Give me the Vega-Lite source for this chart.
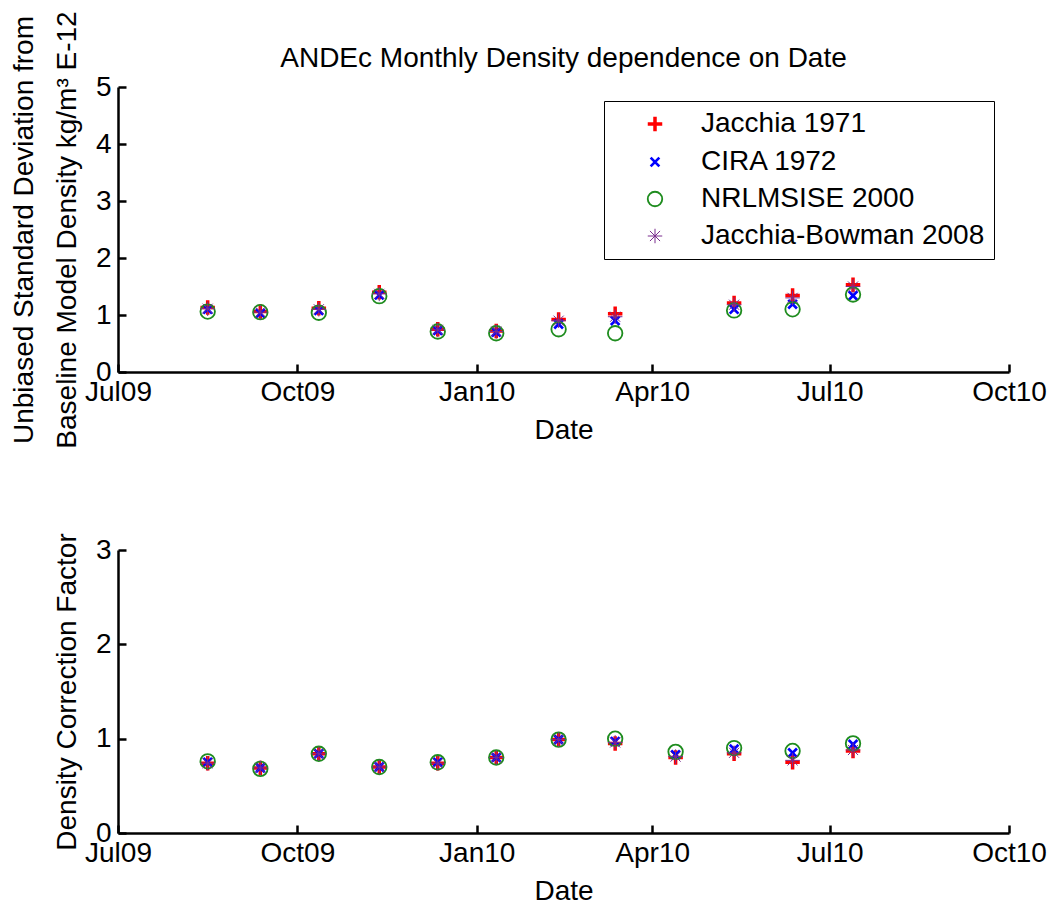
{
  "$schema": "https://vega.github.io/schema/vega-lite/v6.json",
  "autosize": "pad",
  "padding": {"left": 10, "top": 10, "right": 5, "bottom": 3},
  "background": "white",
  "bounds": "flush",
  "spacing": 178,
  "datasets": {
    "top": [
      {"d": "2009-08-16", "s": "Jacchia 1971", "v": 1.13},
      {"d": "2009-09-12", "s": "Jacchia 1971", "v": 1.06},
      {"d": "2009-10-12", "s": "Jacchia 1971", "v": 1.12},
      {"d": "2009-11-12", "s": "Jacchia 1971", "v": 1.40},
      {"d": "2009-12-12", "s": "Jacchia 1971", "v": 0.75},
      {"d": "2010-01-11", "s": "Jacchia 1971", "v": 0.72},
      {"d": "2010-02-12", "s": "Jacchia 1971", "v": 0.92},
      {"d": "2010-03-13", "s": "Jacchia 1971", "v": 1.02},
      {"d": "2010-05-13", "s": "Jacchia 1971", "v": 1.21},
      {"d": "2010-06-12", "s": "Jacchia 1971", "v": 1.34},
      {"d": "2010-07-13", "s": "Jacchia 1971", "v": 1.53},
      {"d": "2009-08-16", "s": "CIRA 1972", "v": 1.10},
      {"d": "2009-09-12", "s": "CIRA 1972", "v": 1.03},
      {"d": "2009-10-12", "s": "CIRA 1972", "v": 1.08},
      {"d": "2009-11-12", "s": "CIRA 1972", "v": 1.35},
      {"d": "2009-12-12", "s": "CIRA 1972", "v": 0.73},
      {"d": "2010-01-11", "s": "CIRA 1972", "v": 0.70},
      {"d": "2010-02-12", "s": "CIRA 1972", "v": 0.84},
      {"d": "2010-03-13", "s": "CIRA 1972", "v": 0.90},
      {"d": "2010-05-13", "s": "CIRA 1972", "v": 1.10},
      {"d": "2010-06-12", "s": "CIRA 1972", "v": 1.19},
      {"d": "2010-07-13", "s": "CIRA 1972", "v": 1.34},
      {"d": "2009-08-16", "s": "NRLMSISE 2000", "v": 1.06},
      {"d": "2009-09-12", "s": "NRLMSISE 2000", "v": 1.05},
      {"d": "2009-10-12", "s": "NRLMSISE 2000", "v": 1.04},
      {"d": "2009-11-12", "s": "NRLMSISE 2000", "v": 1.33},
      {"d": "2009-12-12", "s": "NRLMSISE 2000", "v": 0.71},
      {"d": "2010-01-11", "s": "NRLMSISE 2000", "v": 0.68},
      {"d": "2010-02-12", "s": "NRLMSISE 2000", "v": 0.75},
      {"d": "2010-03-13", "s": "NRLMSISE 2000", "v": 0.68},
      {"d": "2010-05-13", "s": "NRLMSISE 2000", "v": 1.08},
      {"d": "2010-06-12", "s": "NRLMSISE 2000", "v": 1.10},
      {"d": "2010-07-13", "s": "NRLMSISE 2000", "v": 1.36},
      {"d": "2009-08-16", "s": "Jacchia-Bowman 2008", "v": 1.11},
      {"d": "2009-09-12", "s": "Jacchia-Bowman 2008", "v": 1.05},
      {"d": "2009-10-12", "s": "Jacchia-Bowman 2008", "v": 1.10},
      {"d": "2009-11-12", "s": "Jacchia-Bowman 2008", "v": 1.37},
      {"d": "2009-12-12", "s": "Jacchia-Bowman 2008", "v": 0.74},
      {"d": "2010-01-11", "s": "Jacchia-Bowman 2008", "v": 0.71},
      {"d": "2010-02-12", "s": "Jacchia-Bowman 2008", "v": 0.90},
      {"d": "2010-03-13", "s": "Jacchia-Bowman 2008", "v": 0.97},
      {"d": "2010-05-13", "s": "Jacchia-Bowman 2008", "v": 1.18},
      {"d": "2010-06-12", "s": "Jacchia-Bowman 2008", "v": 1.30},
      {"d": "2010-07-13", "s": "Jacchia-Bowman 2008", "v": 1.50}
    ],
    "bot": [
      {"d": "2009-08-16", "s": "Jacchia 1971", "v": 0.74},
      {"d": "2009-09-12", "s": "Jacchia 1971", "v": 0.69},
      {"d": "2009-10-12", "s": "Jacchia 1971", "v": 0.84},
      {"d": "2009-11-12", "s": "Jacchia 1971", "v": 0.70},
      {"d": "2009-12-12", "s": "Jacchia 1971", "v": 0.74},
      {"d": "2010-01-11", "s": "Jacchia 1971", "v": 0.80},
      {"d": "2010-02-12", "s": "Jacchia 1971", "v": 0.99},
      {"d": "2010-03-13", "s": "Jacchia 1971", "v": 0.95},
      {"d": "2010-04-13", "s": "Jacchia 1971", "v": 0.80},
      {"d": "2010-05-13", "s": "Jacchia 1971", "v": 0.84},
      {"d": "2010-06-12", "s": "Jacchia 1971", "v": 0.75},
      {"d": "2010-07-13", "s": "Jacchia 1971", "v": 0.87},
      {"d": "2009-08-16", "s": "CIRA 1972", "v": 0.75},
      {"d": "2009-09-12", "s": "CIRA 1972", "v": 0.69},
      {"d": "2009-10-12", "s": "CIRA 1972", "v": 0.84},
      {"d": "2009-11-12", "s": "CIRA 1972", "v": 0.70},
      {"d": "2009-12-12", "s": "CIRA 1972", "v": 0.75},
      {"d": "2010-01-11", "s": "CIRA 1972", "v": 0.80},
      {"d": "2010-02-12", "s": "CIRA 1972", "v": 0.99},
      {"d": "2010-03-13", "s": "CIRA 1972", "v": 0.97},
      {"d": "2010-04-13", "s": "CIRA 1972", "v": 0.83},
      {"d": "2010-05-13", "s": "CIRA 1972", "v": 0.89},
      {"d": "2010-06-12", "s": "CIRA 1972", "v": 0.85},
      {"d": "2010-07-13", "s": "CIRA 1972", "v": 0.94},
      {"d": "2009-08-16", "s": "NRLMSISE 2000", "v": 0.76},
      {"d": "2009-09-12", "s": "NRLMSISE 2000", "v": 0.68},
      {"d": "2009-10-12", "s": "NRLMSISE 2000", "v": 0.84},
      {"d": "2009-11-12", "s": "NRLMSISE 2000", "v": 0.70},
      {"d": "2009-12-12", "s": "NRLMSISE 2000", "v": 0.75},
      {"d": "2010-01-11", "s": "NRLMSISE 2000", "v": 0.80},
      {"d": "2010-02-12", "s": "NRLMSISE 2000", "v": 0.99},
      {"d": "2010-03-13", "s": "NRLMSISE 2000", "v": 1.00},
      {"d": "2010-04-13", "s": "NRLMSISE 2000", "v": 0.86},
      {"d": "2010-05-13", "s": "NRLMSISE 2000", "v": 0.90},
      {"d": "2010-06-12", "s": "NRLMSISE 2000", "v": 0.87},
      {"d": "2010-07-13", "s": "NRLMSISE 2000", "v": 0.95},
      {"d": "2009-08-16", "s": "Jacchia-Bowman 2008", "v": 0.74},
      {"d": "2009-09-12", "s": "Jacchia-Bowman 2008", "v": 0.69},
      {"d": "2009-10-12", "s": "Jacchia-Bowman 2008", "v": 0.84},
      {"d": "2009-11-12", "s": "Jacchia-Bowman 2008", "v": 0.70},
      {"d": "2009-12-12", "s": "Jacchia-Bowman 2008", "v": 0.74},
      {"d": "2010-01-11", "s": "Jacchia-Bowman 2008", "v": 0.80},
      {"d": "2010-02-12", "s": "Jacchia-Bowman 2008", "v": 0.99},
      {"d": "2010-03-13", "s": "Jacchia-Bowman 2008", "v": 0.96},
      {"d": "2010-04-13", "s": "Jacchia-Bowman 2008", "v": 0.81},
      {"d": "2010-05-13", "s": "Jacchia-Bowman 2008", "v": 0.85},
      {"d": "2010-06-12", "s": "Jacchia-Bowman 2008", "v": 0.77},
      {"d": "2010-07-13", "s": "Jacchia-Bowman 2008", "v": 0.88}
    ]
  },
  "config": {
    "font": "Liberation Sans",
    "view": {"stroke": null},
    "axis": {
      "grid": false,
      "domainColor": "black",
      "domainWidth": 2.5,
      "tickColor": "black",
      "tickWidth": 2.5,
      "tickSize": -8,
      "labelFont": "Liberation Sans",
      "labelFontSize": 28,
      "labelColor": "black",
      "titleFont": "Liberation Sans",
      "titleFontSize": 28,
      "titleFontWeight": "normal",
      "titleColor": "black",
      "labelOverlap": false,
      "labelFlush": false
    }
  },
  "resolve": {
    "scale": {"stroke": "independent", "shape": "independent", "strokeWidth": "independent"},
    "legend": {"stroke": "independent", "shape": "independent", "strokeWidth": "independent"}
  },
  "vconcat": [
    {
      "width": 891,
      "height": 285,
      "title": {"text": "ANDEc Monthly Density dependence on Date", "fontSize": 28, "fontWeight": "normal", "font": "Liberation Sans", "anchor": "middle", "offset": -62, "color": "black"},
      "data": {"name": "top"},
      "mark": {"type": "point", "filled": false, "size": 210, "opacity": 1},
      "encoding": {
        "x": {
          "field": "d", "type": "temporal",
          "scale": {"type": "utc", "domain": [{"year": 2009, "month": 7, "date": 1, "utc": true}, {"year": 2010, "month": 10, "date": 1, "utc": true}]},
          "axis": {
            "title": "Date",
            "values": [
              {"year": 2009, "month": 7, "date": 1, "utc": true},
              {"year": 2009, "month": 10, "date": 1, "utc": true},
              {"year": 2010, "month": 1, "date": 1, "utc": true},
              {"year": 2010, "month": 4, "date": 1, "utc": true},
              {"year": 2010, "month": 7, "date": 1, "utc": true},
              {"year": 2010, "month": 10, "date": 1, "utc": true}
            ],
            "labelExpr": "utcFormat(datum.value, '%b%y')",
            "labelPadding": 14,
            "titlePadding": 10
          }
        },
        "y": {
          "field": "v", "type": "quantitative",
          "scale": {"domain": [0, 5]},
          "axis": {
            "values": [0, 1, 2, 3, 4, 5],
            "title": ["Unbiased Standard Deviation from", "Baseline Model Density kg/m³ E-12"],
            "titleLineHeight": 43,
            "labelPadding": 15,
            "titlePadding": 14
          }
        },
        "stroke": {
          "field": "s", "type": "nominal",
          "scale": {"domain": ["Jacchia 1971", "CIRA 1972", "NRLMSISE 2000", "Jacchia-Bowman 2008"], "range": ["#ff0000", "#0000ff", "#1e8c1e", "#7b2d8e"]},
          "legend": {
            "title": null,
            "orient": "none",
            "legendX": 486,
            "legendY": 14,
            "strokeColor": "black",
            "fillColor": "white",
            "padding": 9,
            "symbolOffset": 28,
            "labelOffset": 32,
            "rowPadding": 9,
            "labelFontSize": 28,
            "labelFont": "Liberation Sans",
            "labelColor": "black",
            "labelLimit": 0,
            "symbolSize": 210,
            "symbolFillColor": "transparent"
          }
        },
        "shape": {
          "field": "s", "type": "nominal",
          "scale": {"domain": ["Jacchia 1971", "CIRA 1972", "NRLMSISE 2000", "Jacchia-Bowman 2008"], "range": ["M-1,0L1,0M0,-1L0,1", "M-0.6,-0.6L0.6,0.6M-0.6,0.6L0.6,-0.6", "circle", "M-1,0L1,0M0,-1L0,1M-0.7,-0.7L0.7,0.7M-0.7,0.7L0.7,-0.7"]}
        },
        "strokeWidth": {
          "field": "s", "type": "nominal",
          "scale": {"domain": ["Jacchia 1971", "CIRA 1972", "NRLMSISE 2000", "Jacchia-Bowman 2008"], "range": [3.5, 1, 1, 1]}
        }
      }
    },
    {
      "width": 891,
      "height": 283,
      "data": {"name": "bot"},
      "mark": {"type": "point", "filled": false, "size": 210, "opacity": 1},
      "encoding": {
        "x": {
          "field": "d", "type": "temporal",
          "scale": {"type": "utc", "domain": [{"year": 2009, "month": 7, "date": 1, "utc": true}, {"year": 2010, "month": 10, "date": 1, "utc": true}]},
          "axis": {
            "title": "Date",
            "values": [
              {"year": 2009, "month": 7, "date": 1, "utc": true},
              {"year": 2009, "month": 10, "date": 1, "utc": true},
              {"year": 2010, "month": 1, "date": 1, "utc": true},
              {"year": 2010, "month": 4, "date": 1, "utc": true},
              {"year": 2010, "month": 7, "date": 1, "utc": true},
              {"year": 2010, "month": 10, "date": 1, "utc": true}
            ],
            "labelExpr": "utcFormat(datum.value, '%b%y')",
            "labelPadding": 14,
            "titlePadding": 10
          }
        },
        "y": {
          "field": "v", "type": "quantitative",
          "scale": {"domain": [0, 3]},
          "axis": {
            "values": [0, 1, 2, 3],
            "title": "Density Correction Factor",
            "labelPadding": 15,
            "titlePadding": 14
          }
        },
        "stroke": {
          "field": "s", "type": "nominal",
          "scale": {"domain": ["Jacchia 1971", "CIRA 1972", "NRLMSISE 2000", "Jacchia-Bowman 2008"], "range": ["#ff0000", "#0000ff", "#1e8c1e", "#7b2d8e"]},
          "legend": null
        },
        "shape": {
          "field": "s", "type": "nominal",
          "scale": {"domain": ["Jacchia 1971", "CIRA 1972", "NRLMSISE 2000", "Jacchia-Bowman 2008"], "range": ["M-1,0L1,0M0,-1L0,1", "M-0.6,-0.6L0.6,0.6M-0.6,0.6L0.6,-0.6", "circle", "M-1,0L1,0M0,-1L0,1M-0.7,-0.7L0.7,0.7M-0.7,0.7L0.7,-0.7"]},
          "legend": null
        },
        "strokeWidth": {
          "field": "s", "type": "nominal",
          "scale": {"domain": ["Jacchia 1971", "CIRA 1972", "NRLMSISE 2000", "Jacchia-Bowman 2008"], "range": [3.5, 1, 1, 1]},
          "legend": null
        }
      }
    }
  ]
}
